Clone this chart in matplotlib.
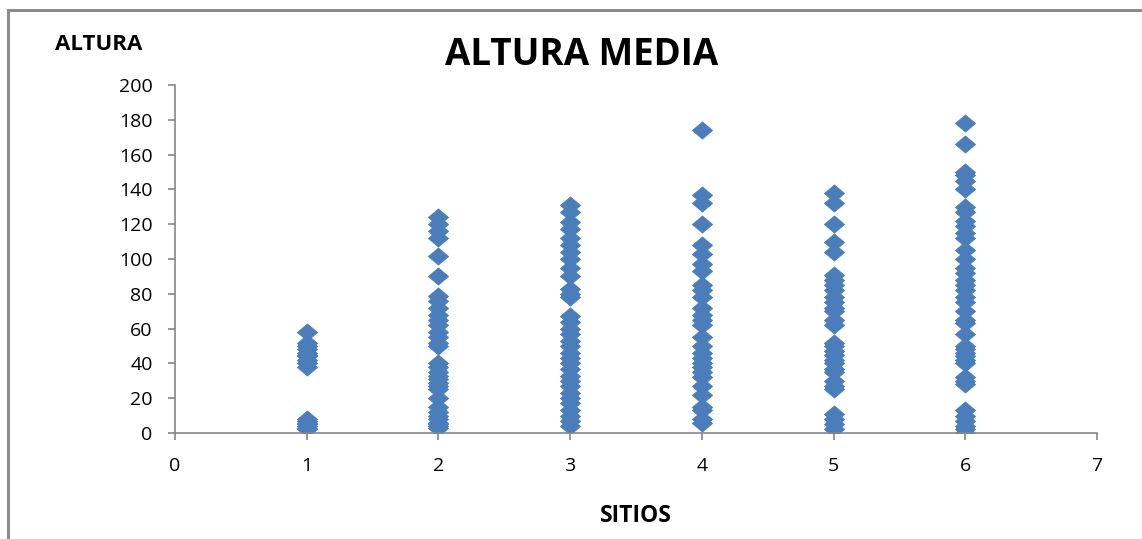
import matplotlib.pyplot as plt
from matplotlib.lines import Line2D
from matplotlib.path import Path

# alturas medidas en cada sitio
sitio1 = [58, 52, 50, 48, 46, 45, 44, 42, 40, 38, 8, 7, 6, 5, 4, 3, 2]
sitio2 = [124, 120, 116, 112, 102, 90, 79, 76, 72, 68, 65, 62, 58, 55, 52, 50,
          40, 38, 35, 33, 31, 29, 27, 25, 20, 15, 12, 10, 8, 6, 5, 4, 3]
sitio3 = [131, 127, 121, 117, 112, 108, 104, 100, 95, 90, 83, 80, 78, 67, 64, 60,
          57, 53, 50, 46, 43, 40, 37, 33, 30, 27, 23, 20, 17, 13, 10, 7, 4]
sitio4 = [174, 137, 132, 120, 108, 103, 97, 93, 85, 82, 78, 72, 68, 65, 62, 55,
          50, 46, 43, 40, 38, 35, 32, 27, 22, 15, 13, 8, 6]
sitio5 = [138, 132, 120, 110, 104, 91, 88, 85, 82, 78, 75, 72, 70, 65, 62, 52,
          50, 47, 45, 42, 40, 37, 35, 30, 27, 25, 11, 8, 5, 2]
sitio6 = [178, 166, 150, 148, 145, 140, 130, 127, 122, 119, 115, 112, 105, 100,
          95, 92, 88, 85, 82, 78, 75, 70, 65, 63, 57, 50, 48, 46, 44, 42, 40,
          32, 30, 28, 13, 10, 7, 4, 2, 0]
sitios = [sitio1, sitio2, sitio3, sitio4, sitio5, sitio6]

plt.rcParams['font.family'] = ['Open Sans', 'DejaVu Sans']

fig = plt.figure(figsize=(11.42, 5.39), dpi=100)
ax = fig.add_axes([0.1532, 0.1967, 0.8074, 0.6456])

# rombo algo mas ancho que alto
rombo = Path([(0, 1), (1.18, 0), (0, -1), (-1.18, 0), (0, 1)],
             [Path.MOVETO, Path.LINETO, Path.LINETO, Path.LINETO, Path.CLOSEPOLY])

for i, alturas in enumerate(sitios):
    ax.plot([i + 1] * len(alturas), alturas, linestyle='none', marker=rombo,
            markersize=14.5, color='#4A7EBB', markeredgecolor='#4A7EBB',
            markeredgewidth=0.6)

ax.set_xlim(0, 7)
ax.set_ylim(0, 200)
ax.set_xticks(range(0, 8))
ax.set_yticks(range(0, 201, 20))
for s in ['top', 'right']:
    ax.spines[s].set_visible(False)
for s in ['left', 'bottom']:
    ax.spines[s].set_color('#868686')
    ax.spines[s].set_linewidth(1.2)
ax.tick_params(axis='both', direction='out', length=5, width=1.2, color='#868686',
               labelsize=14, pad=11)
ax.tick_params(axis='x', pad=12)

fig.text(0.509, 0.898, 'ALTURA MEDIA', ha='center', va='center',
         fontsize=26.5, fontweight='bold')
fig.text(0.048, 0.917, 'ALTURA', ha='left', va='center',
         fontsize=16, fontweight='bold')
fig.text(0.557, 0.043, 'SITIOS', ha='center', va='center',
         fontsize=16.5, fontweight='bold')

# marco exterior del grafico
fig.add_artist(Line2D([0.007, 0.007], [0.0, 0.981], color='#8C8C8C', linewidth=2.2,
                      transform=fig.transFigure))
fig.add_artist(Line2D([0.007, 1.0], [0.981, 0.981], color='#8C8C8C', linewidth=2.2,
                      transform=fig.transFigure))

fig.savefig('out.png', dpi=100)
